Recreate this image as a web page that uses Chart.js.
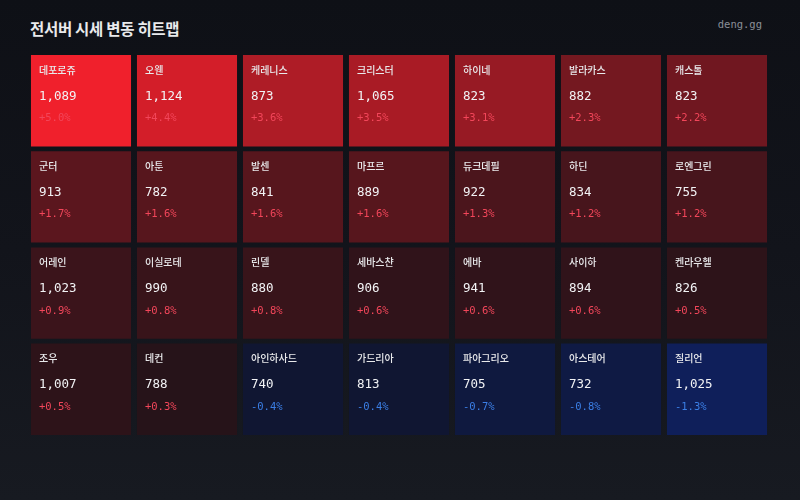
<!DOCTYPE html>
<html>
<head>
<meta charset="utf-8">
<script src="https://cdn.jsdelivr.net/npm/chart.js@4.4.1/dist/chart.umd.min.js"></script>
<style>
	html, body { margin:0; padding:0; }
	body { width:800px; height:500px; overflow:hidden; background:linear-gradient(180deg, #0e1016 0%, #12141b 50%, #171a21 100%); position:relative; }
	.title { position:absolute; left:30px; top:17px; font:700 15.5px 'Noto Sans CJK KR', sans-serif; color:#e9eaec; letter-spacing:-0.3px; }
	.site { position:absolute; right:38px; top:18px; font:10.5px 'DejaVu Sans Mono', monospace; color:#8b8f98; }
	#heat { position:absolute; left:0; top:0; }
</style>
</head>
<body>
<div class='title'>전서버 시세 변동 히트맵</div>
<div class='site'>deng.gg</div>
<canvas id='heat' width='800' height='500'></canvas>
<script>
const columns = ['0', '1', '2', '3', '4', '5', '6']

const servers = [
	['데포로쥬', '오웬', '케레니스', '크리스터', '하이네', '발라카스', '캐스톨'],
	['군터', '아툰', '발센', '마프르', '듀크데필', '하딘', '로엔그린'],
	['어레인', '이실로테', '린델', '세바스챤', '에바', '사이하', '켄라우헬'],
	['조우', '데컨', '아인하사드', '가드리아', '파아그리오', '아스테어', '질리언']
]

const prices = [
	[1089, 1124, 873, 1065, 823, 882, 823],
	[913, 782, 841, 889, 922, 834, 755],
	[1023, 990, 880, 906, 941, 894, 826],
	[1007, 788, 740, 813, 705, 732, 1025]
]

const changes = [
	[5.0, 4.4, 3.6, 3.5, 3.1, 2.3, 2.2],
	[1.7, 1.6, 1.6, 1.6, 1.3, 1.2, 1.2],
	[0.9, 0.8, 0.8, 0.6, 0.6, 0.6, 0.5],
	[0.5, 0.3, -0.4, -0.4, -0.7, -0.8, -1.3]
]


function mix(a, b, t){
	return `rgb(${a.map((v, i) => Math.round(v + (b[i] - v)*t)).join(',')})`
}

function cellColor(p){
	if(p >= 0) return mix([30, 18, 24], [240, 32, 44], Math.pow(p/5, 1.15))
	return mix([16, 18, 32], [15, 31, 90], Math.min(1, -p/1.3))
}

function formatPrice(v){
	return v.toLocaleString('en-US')
}

function formatChange(p){
	return (p >= 0 ? '+' : '') + p.toFixed(1) + '%'
}

const gap = 0.05
const datasets = servers.map((row, r) => ({
	label:`row${r}`,
	data:row.map(() => [r + gap/2, r + 1 - gap/2]),
	backgroundColor:changes[r].map(cellColor),
	borderWidth:0,
	borderSkipped:false,
	grouped:false,
	categoryPercentage:1,
	barPercentage:0.944
}))

const cellText = {
	id:'cellText',
	afterDatasetsDraw(chart){
		const ctx = chart.ctx
		ctx.save()
		ctx.textBaseline = 'middle'
		ctx.textAlign = 'left'
		chart.data.datasets.forEach((ds, r) => {
			const meta = chart.getDatasetMeta(r)
			meta.data.forEach((bar, c) => {
				const { x, y, base, width } = bar.getProps(['x', 'y', 'base', 'width'], true)
				const left = x - width/2 + 8
				const top = Math.min(y, base)
				ctx.fillStyle = '#e8e9eb'
				ctx.font = "500 10px 'Noto Sans CJK KR', sans-serif"
				ctx.fillText(servers[r][c], left, top + 15)
				ctx.fillStyle = '#f2f3f5'
				ctx.font = "12.5px 'DejaVu Sans Mono', monospace"
				ctx.fillText(formatPrice(prices[r][c]), left, top + 41.5)
				const p = changes[r][c]
				ctx.fillStyle = p >= 0 ? '#f2465a' : '#3b7fe6'
				ctx.font = "10.5px 'DejaVu Sans Mono', monospace"
				ctx.fillText(formatChange(p), left, top + 63.5)
			})
		})
		ctx.restore()
	}
}

new Chart(document.getElementById('heat'), {
	type:'bar',
	data:{ labels:columns, datasets },
	options:{
		responsive:false,
		animation:false,
		layout:{ padding:{ left:28, right:30, top:52.6, bottom:62.6 } },
		plugins:{
			legend:{ display:false },
			tooltip:{ enabled:false }
		},
		scales:{
			x:{ display:false, offset:true },
			y:{ display:false, min:0, max:4, reverse:true }
		}
	},
	plugins:[cellText]
})
</script>
</body>
</html>
